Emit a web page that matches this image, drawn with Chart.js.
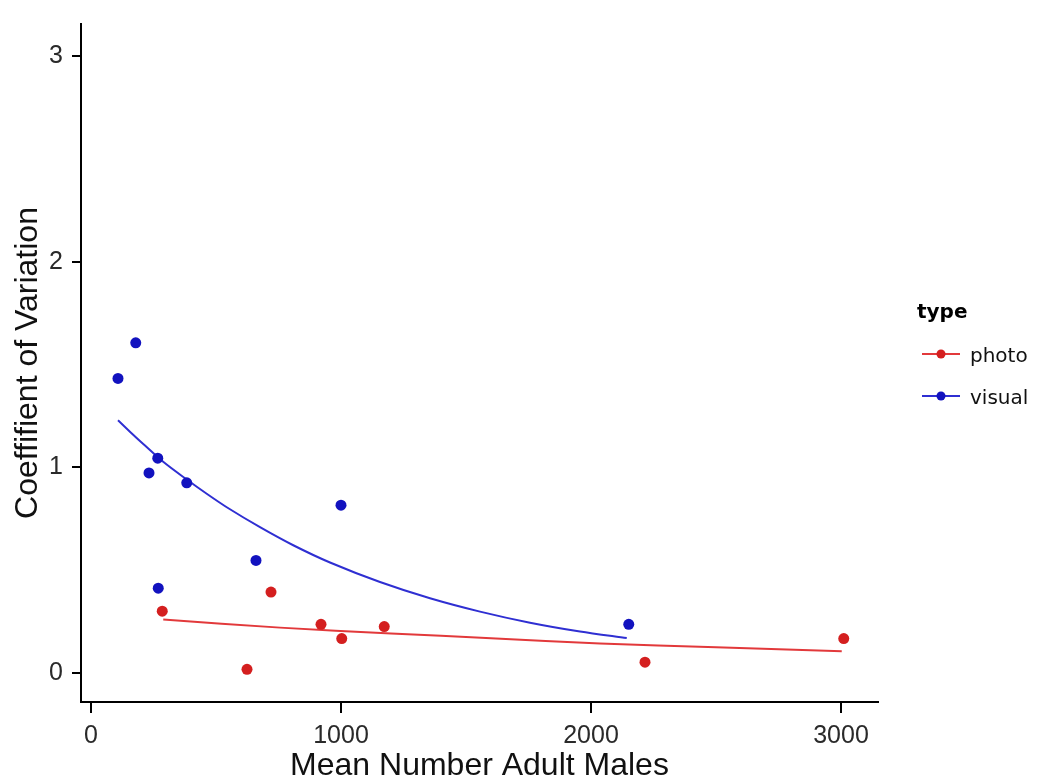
<!DOCTYPE html>
<html><head><meta charset="utf-8">
<script src="https://cdn.jsdelivr.net/npm/chart.js@4.4.0/dist/chart.umd.min.js"></script>
<style>html,body{margin:0;padding:0;background:#fff;} canvas{display:block;}</style>
</head><body>
<canvas id="c" width="1040" height="782"></canvas>
<script>
// ---- data ----
const photoX = [285, 720, 920, 1003, 1173, 624, 2216, 3011];
const photoY = [0.299, 0.392, 0.235, 0.166, 0.224, 0.016, 0.051, 0.166];
const visualX = [108, 179, 267, 232, 383, 1000, 660, 269, 2151];
const visualY = [1.432, 1.605, 1.044, 0.972, 0.924, 0.815, 0.546, 0.411, 0.235];
const photoFitX = [289, 756, 1200, 1600, 2036, 2500, 3003];
const photoFitY = [0.259, 0.219, 0.191, 0.167, 0.142, 0.123, 0.104];
const visualFitX = [108, 160, 209, 290, 383, 460, 543, 676, 809, 956, 1156, 1356, 1556, 1756, 1956, 2143];
const visualFitY = [1.228, 1.168, 1.113, 1.025, 0.94, 0.873, 0.805, 0.708, 0.62, 0.536, 0.441, 0.362, 0.297, 0.243, 0.2, 0.168];
const xTicks = [0, 1000, 2000, 3000];
const yTicks = [0, 1, 2, 3];
const xTitle = 'Mean Number Adult Males';
const yTitle = 'Coeffifient of Variation';
const legendTitle = 'type';
const seriesNames = ['photo', 'visual'];

const RED_PT = '#d41f1f', RED_LN = '#e2393b';
const BLUE_PT = '#1212bf', BLUE_LN = '#2f2fd2';

const pts = (xs, ys) => xs.map((x, i) => ({x: x, y: ys[i]}));

const legendPlugin = {
  id: 'legendTxt',
  afterDraw(chart) {
    const ctx = chart.ctx;
    ctx.save();
    ctx.fillStyle = '#000';
    ctx.textBaseline = 'alphabetic';
    ctx.textAlign = 'left';
    ctx.font = 'bold 20px "DejaVu Sans"';
    ctx.fillText(legendTitle, 917, 318);
    const cols = [[RED_LN, RED_PT], [BLUE_LN, BLUE_PT]];
    const ys = [354, 396];
    ctx.font = '20px "DejaVu Sans"';
    for (let i = 0; i < 2; i++) {
      const y = ys[i];
      ctx.strokeStyle = cols[i][0];
      ctx.lineWidth = 2;
      ctx.beginPath(); ctx.moveTo(922, y); ctx.lineTo(960, y); ctx.stroke();
      ctx.fillStyle = cols[i][1];
      ctx.beginPath(); ctx.arc(941, y, 4.5, 0, Math.PI * 2); ctx.fill();
      ctx.fillStyle = '#111';
      ctx.fillText(seriesNames[i], 970, y + 8);
    }
    ctx.restore();
  }
};

new Chart(document.getElementById('c'), {
  type: 'scatter',
  data: {
    datasets: [
      {label: seriesNames[0], data: pts(photoX, photoY), backgroundColor: RED_PT, borderColor: RED_PT, pointRadius: 5.5, pointBorderWidth: 0, showLine: false, order: 1},
      {label: seriesNames[1], data: pts(visualX, visualY), backgroundColor: BLUE_PT, borderColor: BLUE_PT, pointRadius: 5.5, pointBorderWidth: 0, showLine: false, order: 1},
      {label: 'photo fit', data: pts(photoFitX, photoFitY), borderColor: RED_LN, borderWidth: 2, pointRadius: 0, showLine: true, tension: 0.3, order: 2},
      {label: 'visual fit', data: pts(visualFitX, visualFitY), borderColor: BLUE_LN, borderWidth: 2, pointRadius: 0, showLine: true, tension: 0.3, order: 2}
    ]
  },
  options: {
    responsive: false,
    animation: false,
    devicePixelRatio: 1,
    layout: {padding: {top: 15, right: 162, left: 0, bottom: 0}},
    plugins: {legend: {display: false}, tooltip: {enabled: false}},
    scales: {
      x: {
        type: 'linear', min: -40, max: 3148,
        afterBuildTicks: s => { s.ticks = xTicks.map(v => ({value: v})); },
        afterFit: s => { s.height = 80; },
        grid: {drawOnChartArea: false, drawTicks: true, tickLength: 11, color: '#000', lineWidth: 2},
        border: {display: true, color: '#000', width: 2},
        ticks: {font: {size: 25, family: 'Liberation Sans'}, color: '#2a2a2a', padding: 8, maxRotation: 0, callback: v => String(v)},
        title: {display: true, text: xTitle, font: {size: 32, family: 'Liberation Sans', lineHeight: 1}, color: '#111', padding: {top: 0, bottom: 0}}
      },
      y: {
        type: 'linear', min: -0.143, max: 3.157,
        afterBuildTicks: s => { s.ticks = yTicks.map(v => ({value: v})); },
        afterFit: s => { s.width = 81; },
        grid: {drawOnChartArea: false, drawTicks: true, tickLength: 9, color: '#000', lineWidth: 2},
        border: {display: true, color: '#000', width: 2},
        ticks: {font: {size: 25, family: 'Liberation Sans'}, color: '#2a2a2a', padding: 9, callback: v => String(v)},
        title: {display: true, text: yTitle, font: {size: 32, family: 'Liberation Sans', lineHeight: 1}, color: '#111', padding: {top: 12, bottom: 0}}
      }
    }
  },
  plugins: [legendPlugin]
});
</script>
</body></html>
